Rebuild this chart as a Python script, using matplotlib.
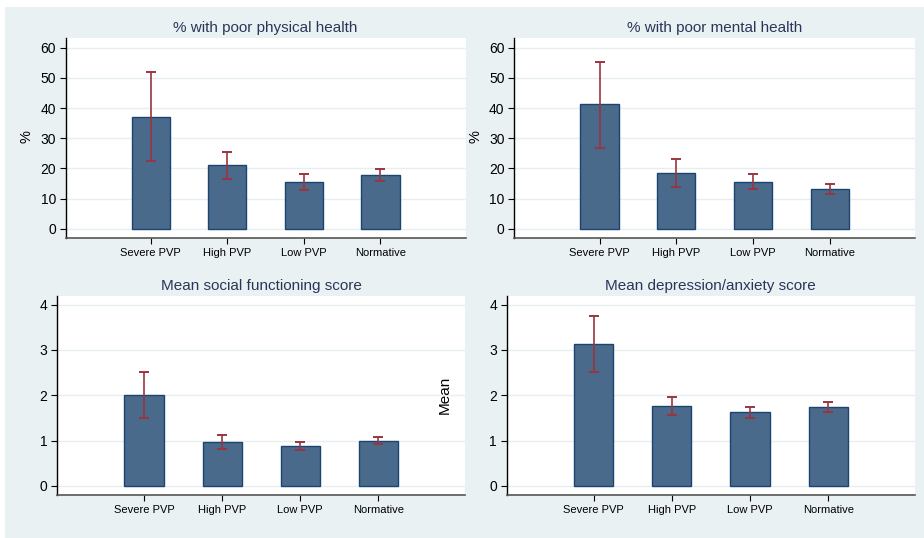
import matplotlib
matplotlib.use("Agg")
import matplotlib.pyplot as plt
import numpy as np

plt.rcParams['font.family'] = ['Liberation Sans', 'DejaVu Sans']

groups = ["Severe PVP", "High PVP", "Low PVP", "Normative"]

phys_val = [37.1, 21.0, 15.6, 17.8]
phys_lo = [22.3, 16.4, 12.9, 15.7]
phys_hi = [51.8, 25.5, 18.1, 19.7]

ment_val = [41.2, 18.6, 15.6, 13.2]
ment_lo = [26.7, 13.8, 13.2, 11.4]
ment_hi = [55.4, 23.2, 18.0, 14.7]

soc_val = [2.00, 0.97, 0.88, 1.00]
soc_lo = [1.49, 0.82, 0.79, 0.93]
soc_hi = [2.51, 1.12, 0.97, 1.08]

dep_val = [3.13, 1.77, 1.62, 1.75]
dep_lo = [2.51, 1.57, 1.49, 1.64]
dep_hi = [3.74, 1.96, 1.74, 1.85]

pct_ticks = [0, 10, 20, 30, 40, 50, 60]
mean_ticks = [0, 1, 2, 3, 4]

W, H = 924, 538
BG = "#EAF1F3"
GRID = "#E6EEF0"
BAR = "#4A6A8C"
EDGE = "#1C4470"
ERR = "#9A3540"
TITLE = "#2A3658"

fig = plt.figure(figsize=(W / 100, H / 100), dpi=100)
fig.patch.set_facecolor("white")
# shaded graph region
fig.patches.append(plt.Rectangle((5 / W, 0), 1 - 5 / W, 1 - 7 / H,
                                 transform=fig.transFigure,
                                 facecolor=BG, edgecolor="none", zorder=-10))


def px_axes(x0, y0, x1, y1):
    return fig.add_axes([x0 / W, 1 - y1 / H, (x1 - x0) / W, (y1 - y0) / H])


def panel(ax, title, vals, lo, hi, ticks, ylim):
    x = np.arange(1, len(groups) + 1)
    ax.set_facecolor("white")
    ax.bar(x, vals, width=0.5, color=BAR, edgecolor=EDGE, linewidth=1.0, zorder=3)
    v = np.array(vals)
    ax.errorbar(x, v, yerr=[v - np.array(lo), np.array(hi) - v], fmt="none",
                ecolor=ERR, elinewidth=1.2, capsize=3.5, capthick=1.4, zorder=4)
    ax.set_xlim(1 - 1.11, 4 + 1.11)
    ax.set_ylim(*ylim)
    ax.set_yticks(ticks)
    ax.set_xticks(x)
    ax.set_xticklabels(groups, fontsize=8)
    ax.tick_params(axis="y", labelsize=10, length=4.5, width=0.8, pad=2.5, colors="black")
    ax.tick_params(axis="x", length=4, width=0.8, pad=3.2, colors="black")
    ax.grid(axis="y", color=GRID, linewidth=1.0, zorder=0)
    ax.set_axisbelow(True)
    for s in ("top", "right"):
        ax.spines[s].set_visible(False)
    ax.spines["left"].set_color("black")
    ax.spines["left"].set_linewidth(1.0)
    ax.spines["bottom"].set_color("#555555")
    ax.spines["bottom"].set_linewidth(1.2)
    ax.set_title(title, fontsize=11, color=TITLE, pad=4)


ax1 = px_axes(65.7, 38, 465.5, 237.7)
panel(ax1, "% with poor physical health", phys_val, phys_lo, phys_hi, pct_ticks, (-2.98, 63.2))
ax2 = px_axes(514.3, 38, 915, 237.7)
panel(ax2, "% with poor mental health", ment_val, ment_lo, ment_hi, pct_ticks, (-2.98, 63.2))
ax3 = px_axes(57.3, 296, 465, 495)
panel(ax3, "Mean social functioning score", soc_val, soc_lo, soc_hi, mean_ticks, (-0.2, 4.19))
ax4 = px_axes(506.7, 296, 915, 495)
panel(ax4, "Mean depression/anxiety score", dep_val, dep_lo, dep_hi, mean_ticks, (-0.2, 4.19))

fig.text(26.5 / W, 1 - 137 / H, "%", rotation=90, ha="center", va="center", fontsize=10.5)
fig.text(475.5 / W, 1 - 137 / H, "%", rotation=90, ha="center", va="center", fontsize=10.5)
fig.text(445 / W, 1 - 395 / H, "Mean", rotation=90, ha="center", va="center", fontsize=11,
         zorder=10)

fig.savefig("out.png", dpi=100, facecolor=fig.get_facecolor())
